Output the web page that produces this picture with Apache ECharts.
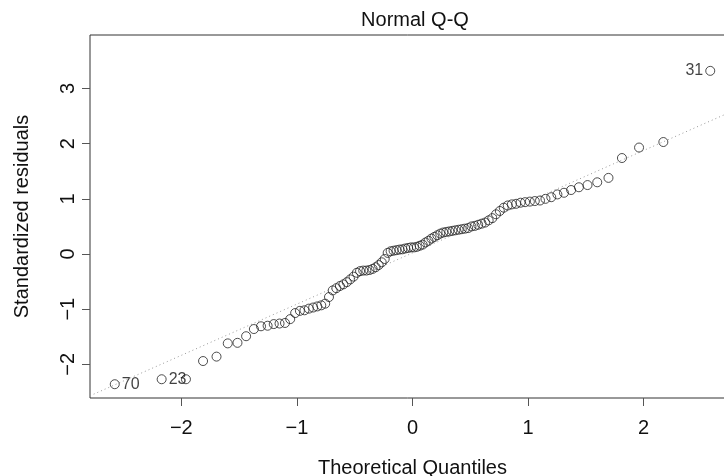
<!DOCTYPE html>
<html>
<head>
<meta charset="utf-8">
<script src="https://cdn.jsdelivr.net/npm/echarts@6/dist/echarts.min.js"></script>
<style>
  html, body { margin: 0; padding: 0; background: #fff; }
  #chart { width: 724px; height: 476px; }
</style>
</head>
<body>
<div id="chart"></div>
<script>
// theoretical quantiles (x) for the 100 sorted residuals
var theoQ = [
  -2.5758, -2.1701, -1.9600, -1.8119, -1.6954, -1.5982, -1.5141, -1.4395, -1.3722, -1.3106,
  -1.2536, -1.2004, -1.1503, -1.1031, -1.0581, -1.0152, -0.9741, -0.9346, -0.8965, -0.8596,
  -0.8239, -0.7892, -0.7554, -0.7225, -0.6903, -0.6588, -0.6280, -0.5978, -0.5681, -0.5388,
  -0.5101, -0.4817, -0.4538, -0.4261, -0.3989, -0.3719, -0.3451, -0.3186, -0.2924, -0.2663,
  -0.2404, -0.2147, -0.1891, -0.1637, -0.1383, -0.1130, -0.0878, -0.0627, -0.0376, -0.0125,
  0.0125, 0.0376, 0.0627, 0.0878, 0.1130, 0.1383, 0.1637, 0.1891, 0.2147, 0.2404,
  0.2663, 0.2924, 0.3186, 0.3451, 0.3719, 0.3989, 0.4261, 0.4538, 0.4817, 0.5101,
  0.5388, 0.5681, 0.5978, 0.6280, 0.6588, 0.6903, 0.7225, 0.7554, 0.7892, 0.8239,
  0.8596, 0.8965, 0.9346, 0.9741, 1.0152, 1.0581, 1.1031, 1.1503, 1.2004, 1.2536,
  1.3106, 1.3722, 1.4395, 1.5141, 1.5982, 1.6954, 1.8119, 1.9600, 2.1701, 2.5758
];
// standardized residuals
var stdRes = [
  -2.36, -2.27, -2.27, -1.94, -1.86, -1.62, -1.61, -1.49, -1.36, -1.31,
  -1.30, -1.27, -1.26, -1.25, -1.18, -1.07, -1.03, -1.02, -0.99, -0.97,
  -0.95, -0.93, -0.90, -0.78, -0.66, -0.62, -0.58, -0.55, -0.51, -0.46,
  -0.41, -0.34, -0.31, -0.30, -0.30, -0.29, -0.27, -0.24, -0.20, -0.15,
  -0.09, 0.02, 0.05, 0.06, 0.07, 0.08, 0.085, 0.10, 0.11, 0.12,
  0.12, 0.13, 0.15, 0.17, 0.21, 0.24, 0.28, 0.31, 0.34, 0.37,
  0.39, 0.40, 0.41, 0.42, 0.43, 0.44, 0.45, 0.46, 0.47, 0.50,
  0.51, 0.53, 0.55, 0.57, 0.61, 0.65, 0.72, 0.78, 0.84, 0.88,
  0.90, 0.91, 0.93, 0.94, 0.95, 0.96, 0.97, 1.00, 1.03, 1.08,
  1.11, 1.16, 1.21, 1.25, 1.30, 1.38, 1.74, 1.93, 2.03, 3.32
];
// labelled observations (position in sorted order -> observation number)
var labelPos = [0, 1, 99];
var labelText = ['70', '23', '31'];

var xTicks = [-2, -1, 0, 1, 2];
var yTicks = [-2, -1, 0, 1, 2, 3];

// dotted qq reference line end points
var refLineX = [-2.79, 2.79];
var refLineY = [-2.57, 2.61];

var FONT = 'Liberation Sans, Arial, sans-serif';

var pts = theoQ.map(function (q, i) {
  var item = { value: [q, stdRes[i]] };
  var k = labelPos.indexOf(i);
  if (k >= 0) {
    item.label = {
      show: true,
      formatter: labelText[k],
      position: q > 0 ? 'left' : 'right',
      distance: 2,
      color: '#111',
      fontSize: 16,
      fontFamily: FONT
    };
  }
  return item;
});

function minusSign(v) {
  return String(v).replace('-', '\u2212');
}

var chart = echarts.init(document.getElementById('chart'), null, { renderer: 'canvas' });
chart.setOption({
  animation: false,
  backgroundColor: '#fff',
  title: {
    text: 'Normal Q-Q',
    left: 410,
    top: 5,
    textAlign: 'center',
    textStyle: { color: '#111', fontSize: 20, fontWeight: 'normal', fontFamily: FONT }
  },
  grid: {
    left: 90, top: 35, width: 645, height: 363,
    outerBoundsMode: 'none',
    containLabel: false,
    show: true, borderColor: '#333', borderWidth: 1, backgroundColor: 'transparent'
  },
  xAxis: {
    type: 'value',
    min: -2.79, max: 2.79,
    name: 'Theoretical Quantiles',
    nameLocation: 'middle',
    nameGap: 60,
    nameTextStyle: { color: '#111', fontSize: 20, fontFamily: FONT },
    axisLine: { show: false, onZero: false },
    splitLine: { show: false },
    axisTick: { show: true, inside: false, length: 8, customValues: xTicks, lineStyle: { color: '#555' } },
    axisLabel: { customValues: xTicks, color: '#111', fontSize: 20, fontFamily: FONT, margin: 20, formatter: minusSign }
  },
  yAxis: {
    type: 'value',
    min: -2.61, max: 3.97,
    name: 'Standardized residuals',
    nameLocation: 'middle',
    nameGap: 58,
    nameTextStyle: { color: '#111', fontSize: 20, fontFamily: FONT },
    axisLine: { show: false, onZero: false },
    splitLine: { show: false },
    axisTick: { show: true, inside: false, length: 8, customValues: yTicks, lineStyle: { color: '#555' } },
    axisLabel: { customValues: yTicks, rotate: 90, color: '#111', fontSize: 20, fontFamily: FONT, margin: 12, formatter: minusSign }
  },
  series: [
    {
      type: 'line',
      data: [[refLineX[0], refLineY[0]], [refLineX[1], refLineY[1]]],
      symbol: 'none',
      silent: true,
      lineStyle: { color: '#999', width: 1, type: [1, 3] },
      z: 1
    },
    {
      type: 'scatter',
      data: pts,
      symbol: 'circle',
      symbolSize: 9,
      itemStyle: { color: 'rgba(0,0,0,0)', borderColor: '#222', borderWidth: 1 },
      z: 2
    }
  ]
});
</script>
</body>
</html>
